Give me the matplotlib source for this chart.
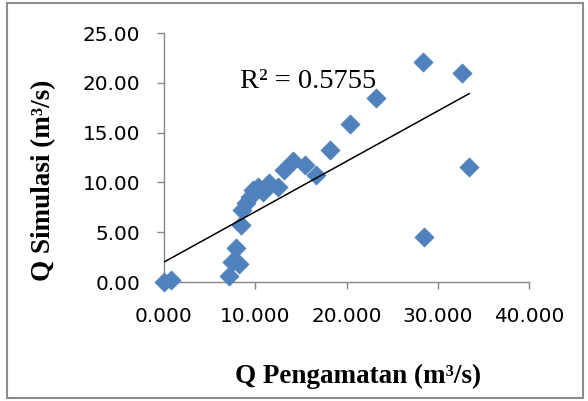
import matplotlib
matplotlib.use("Agg")
import matplotlib.pyplot as plt
from matplotlib.patches import Rectangle
import numpy as np

q_obs = [0.0, 0.8, 7.1, 7.4, 8.2, 7.85, 8.4, 8.55, 9.0, 9.4, 9.8, 10.3, 10.8,
         11.5, 12.5, 13.2, 14.1, 15.4, 16.7, 18.2, 20.4, 23.25, 28.35, 28.5,
         32.7, 33.45]
q_sim = [0.0, 0.17, 0.57, 2.0, 1.85, 3.4, 5.7, 7.2, 7.9, 8.55, 9.2, 9.55, 9.0,
         9.9, 9.55, 11.2, 12.1, 11.75, 10.7, 13.25, 15.9, 18.45, 22.05, 4.53,
         20.97, 11.58]
r2_label = "R² = 0.5755"
x_ticks = [0, 10, 20, 30, 40]
y_ticks = [0, 5, 10, 15, 20, 25]

blue = '#4F81BD'
grey = '#868686'

fig = plt.figure(figsize=(5.88, 4.01), dpi=100)
ax = fig.add_axes([164 / 588, 1 - 282 / 401, 365 / 588, 249 / 401])

# outer chart frame
fig.patches.append(Rectangle((7 / 588, 3 / 401), 576 / 588, 395 / 401,
                             transform=fig.transFigure, fill=False,
                             edgecolor='#8c8c8c', lw=1.5))

ax.scatter(q_obs, q_sim, marker='D', s=95, color=blue, edgecolors=blue,
           linewidths=0.5, zorder=3, clip_on=False)

# linear trendline
x = np.array(q_obs)
y = np.array(q_sim)
slope, intercept = np.polyfit(x, y, 1)
xl = np.array([0, x.max()])
ax.plot(xl, slope * xl + intercept, color='black', lw=1.1, zorder=4)

ax.text(8.33, 19.5, r2_label, fontsize=20.5, family='Liberation Serif',
        ha='left', va='baseline')

ax.set_xlim(0, 40)
ax.set_ylim(0, 25)
ax.set_xticks(x_ticks)
ax.set_yticks(y_ticks)
ax.set_xticklabels([f"{v:.3f}" for v in x_ticks])
ax.set_yticklabels([f"{v:.2f}" for v in y_ticks])

for side in ['top', 'right']:
    ax.spines[side].set_visible(False)
for side in ['left', 'bottom']:
    ax.spines[side].set_color(grey)
    ax.spines[side].set_linewidth(1.0)
ax.tick_params(axis='both', direction='out', length=5, width=1.0, color=grey,
               labelsize=14.4, labelcolor='black')
ax.tick_params(axis='y', pad=12)
ax.tick_params(axis='x', pad=13)

fig.text(358 / 588, 1 - 376 / 401, "Q Pengamatan (m³/s)", family='Liberation Serif',
         fontweight='bold', fontsize=19.5, ha='center', va='center')
fig.text(44 / 588, 1 - 180 / 401, "Q Simulasi (m³/s)", family='Liberation Serif',
         fontweight='bold', fontsize=19.5, ha='center', va='center', rotation=90)

fig.savefig('out.png', dpi=100)
